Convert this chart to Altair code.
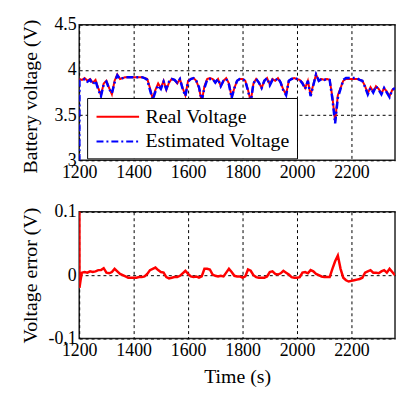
import altair as alt
import pandas as pd

# ---- data ----
t_real = list(range(1200, 2361, 10))
v_real = [3.90, 3.89, 3.91, 3.88, 3.90, 3.86, 3.89, 3.80, 3.72, 3.85,
          3.88, 3.80, 3.73, 3.88, 3.95, 3.90, 3.91, 3.92, 3.92, 3.92,
          3.92, 3.92, 3.92, 3.92, 3.91, 3.90, 3.80, 3.68, 3.78, 3.85,
          3.80, 3.88, 3.78, 3.86, 3.90, 3.89, 3.85, 3.90, 3.80, 3.72,
          3.88, 3.90, 3.91, 3.88, 3.80, 3.65, 3.82, 3.90, 3.91, 3.90,
          3.86, 3.90, 3.82, 3.88, 3.91, 3.85, 3.70, 3.80, 3.88, 3.90,
          3.90, 3.88, 3.78, 3.65, 3.85, 3.90, 3.86, 3.80, 3.88, 3.91,
          3.84, 3.90, 3.88, 3.91, 3.86, 3.78, 3.73, 3.88, 3.90, 3.91,
          3.90, 3.89, 3.86, 3.80, 3.88, 3.72, 3.84, 3.95, 3.88, 3.90,
          3.89, 3.90, 3.89, 3.70, 3.43, 3.72, 3.80, 3.88, 3.90, 3.90,
          3.90, 3.90, 3.90, 3.89, 3.88, 3.82, 3.74, 3.81, 3.76, 3.82,
          3.79, 3.74, 3.80, 3.76, 3.71, 3.78, 3.80]

t_est = [1200, 1201] + list(range(1210, 2361, 10))
v_est = [2.50, 3.88,
         3.88, 3.90, 3.87, 3.89, 3.84, 3.88, 3.78, 3.71, 3.84,
         3.87, 3.79, 3.74, 3.86, 3.94, 3.90, 3.91, 3.92, 3.92, 3.92,
         3.92, 3.92, 3.92, 3.92, 3.91, 3.89, 3.78, 3.67, 3.76, 3.83,
         3.79, 3.87, 3.79, 3.87, 3.90, 3.89, 3.86, 3.90, 3.79, 3.71,
         3.87, 3.90, 3.91, 3.88, 3.81, 3.66, 3.80, 3.89, 3.90, 3.90,
         3.86, 3.90, 3.82, 3.88, 3.90, 3.84, 3.69, 3.80, 3.88, 3.90,
         3.90, 3.88, 3.77, 3.64, 3.85, 3.90, 3.86, 3.80, 3.88, 3.91,
         3.83, 3.89, 3.88, 3.91, 3.86, 3.77, 3.72, 3.88, 3.90, 3.91,
         3.90, 3.89, 3.85, 3.79, 3.88, 3.71, 3.83, 3.95, 3.88, 3.90,
         3.89, 3.90, 3.89, 3.68, 3.41, 3.69, 3.79, 3.89, 3.91, 3.91,
         3.91, 3.91, 3.91, 3.89, 3.88, 3.81, 3.73, 3.80, 3.75, 3.82,
         3.78, 3.73, 3.80, 3.75, 3.70, 3.78, 3.80]

t_err = [1200, 1201, 1205] + list(range(1210, 2361, 10))
v_err = [0.5, -0.02, -0.008,
         0.004, 0.005, 0.004, 0.006, 0.005, 0.006, 0.008, 0.008, 0.011,
         0.004, 0.003, 0.005, 0.010, 0.006, 0.002, 0.000, -0.002, -0.004,
         -0.004, -0.004, -0.004, -0.003, -0.003, -0.002, 0.002, 0.008, 0.010,
         0.012, 0.008, 0.005, 0.004, -0.003, -0.005, -0.004, -0.003, -0.003,
         -0.001, 0.003, 0.007, 0.002, -0.002, -0.003, -0.002, -0.004, -0.002,
         0.010, 0.010, 0.009, 0.001, -0.001, -0.002, -0.001, -0.002, 0.004,
         0.010, 0.005, -0.001, -0.002, -0.002, -0.004, -0.002, 0.009, 0.007,
         0.000, -0.003, -0.004, -0.004, -0.004, -0.002, 0.005, 0.006, 0.002,
         0.001, 0.003, 0.007, 0.004, 0.001, -0.003, -0.004, -0.004, -0.003,
         0.004, 0.005, 0.003, 0.008, 0.006, 0.002, 0.000, -0.002, -0.003,
         -0.003, -0.003, 0.010, 0.022, 0.031, 0.010, -0.004, -0.008, -0.010,
         -0.009, -0.008, -0.007, -0.006, -0.004, 0.004, 0.006, 0.008, 0.004,
         0.004, 0.003, 0.006, 0.008, 0.004, 0.010, 0.005, 0.000]

x_ticks = [1200, 1400, 1600, 1800, 2000, 2200]
v_ticks = [3, 3.5, 4, 4.5]
e_ticks = [-0.1, 0, 0.1]
series_names = ["Real Voltage", "Estimated Voltage"]

FONT = "Liberation Serif"

df_real = pd.DataFrame({"t": t_real, "v": v_real, "series": series_names[0]})
df_est = pd.DataFrame({"t": t_est, "v": v_est, "series": series_names[1]})
df_err = pd.DataFrame({"t": t_err, "e": v_err})

xscale = alt.Scale(domain=[1200, 2360], nice=False, zero=False)


def xaxis():
    return alt.Axis(values=x_ticks, format="d", title=None, grid=True,
                    gridColor="black", gridDash=[3, 3], gridWidth=1,
                    ticks=False, labelFont=FONT, labelFontSize=18,
                    labelColor="black", labelPadding=3, domain=False,
                    labelFlush=False)


color_scale = alt.Scale(domain=series_names, range=["#ff0000", "#0000ff"])
dash_scale = alt.Scale(domain=series_names, range=[[1, 0], [7, 3, 2, 3]])

legend = alt.Legend(
    title=None, orient="none", legendX=8, legendY=74,
    fillColor="white", strokeColor="black", padding=7,
    symbolType="M-2,0H2", symbolSize=462, symbolStrokeWidth=2,
    symbolOffset=12, labelOffset=16, rowPadding=3,
    labelFont=FONT, labelFontSize=20, labelColor="black", labelLimit=300,
)

top_y = alt.Y("v:Q", scale=alt.Scale(domain=[3, 4.5], nice=False, zero=False),
              axis=alt.Axis(values=v_ticks, labelExpr="toString(datum.value)",
                            title="Battery voltage (V)", grid=True,
                            gridColor="black", gridDash=[3, 3], ticks=False,
                            labelFont=FONT, labelFontSize=18, labelColor="black",
                            labelPadding=3, titleFont=FONT, titleFontSize=20,
                            titleFontWeight="normal", titleColor="black",
                            titleX=-49, titleY=72, titleBaseline="middle",
                            domain=False, labelFlush=False))

real = alt.Chart(df_real).mark_line(clip=True, strokeWidth=2).encode(
    x=alt.X("t:Q", scale=xscale, axis=xaxis()),
    y=top_y,
    color=alt.Color("series:N", scale=color_scale, legend=legend),
    strokeDash=alt.StrokeDash("series:N", scale=dash_scale, legend=legend),
)
est = alt.Chart(df_est).mark_line(clip=True, strokeWidth=2.5).encode(
    x=alt.X("t:Q", scale=xscale, axis=xaxis()),
    y=top_y,
    color=alt.Color("series:N", scale=color_scale, legend=legend),
    strokeDash=alt.StrokeDash("series:N", scale=dash_scale, legend=legend),
)
top = alt.layer(real, est).properties(width=319, height=137)

bottom = alt.Chart(df_err).mark_line(clip=True, strokeWidth=2.5, color="#ff0000").encode(
    x=alt.X("t:Q", scale=xscale, axis=alt.Axis(
        values=x_ticks, format="d", title="Time (s)", grid=True,
        gridColor="black", gridDash=[3, 3], ticks=False, labelFont=FONT,
        labelFontSize=18, labelColor="black", labelPadding=3, domain=False,
        titleFont=FONT, titleFontSize=20, titleFontWeight="normal",
        titleColor="black", titlePadding=7, labelFlush=False)),
    y=alt.Y("e:Q", scale=alt.Scale(domain=[-0.1, 0.1], nice=False, zero=False),
            axis=alt.Axis(values=e_ticks, labelExpr="toString(datum.value)",
                          title="Voltage error (V)", grid=True,
                          gridColor="black", gridDash=[3, 3], ticks=False,
                          labelFont=FONT, labelFontSize=18, labelColor="black",
                          labelPadding=3, titleFont=FONT, titleFontSize=20,
                          titleFontWeight="normal", titleColor="black",
                          titleX=-49, titleY=64, titleBaseline="middle",
                          domain=False, labelFlush=False)),
).properties(width=319, height=128)

chart = alt.vconcat(top, bottom, spacing=20).properties(
    padding={"left": 20, "top": 13, "right": 0, "bottom": 0},
    background="white",
).configure_view(stroke="#222222", strokeWidth=1.5)

chart.save("out.html", embed_options={"renderer": "svg", "actions": False})
